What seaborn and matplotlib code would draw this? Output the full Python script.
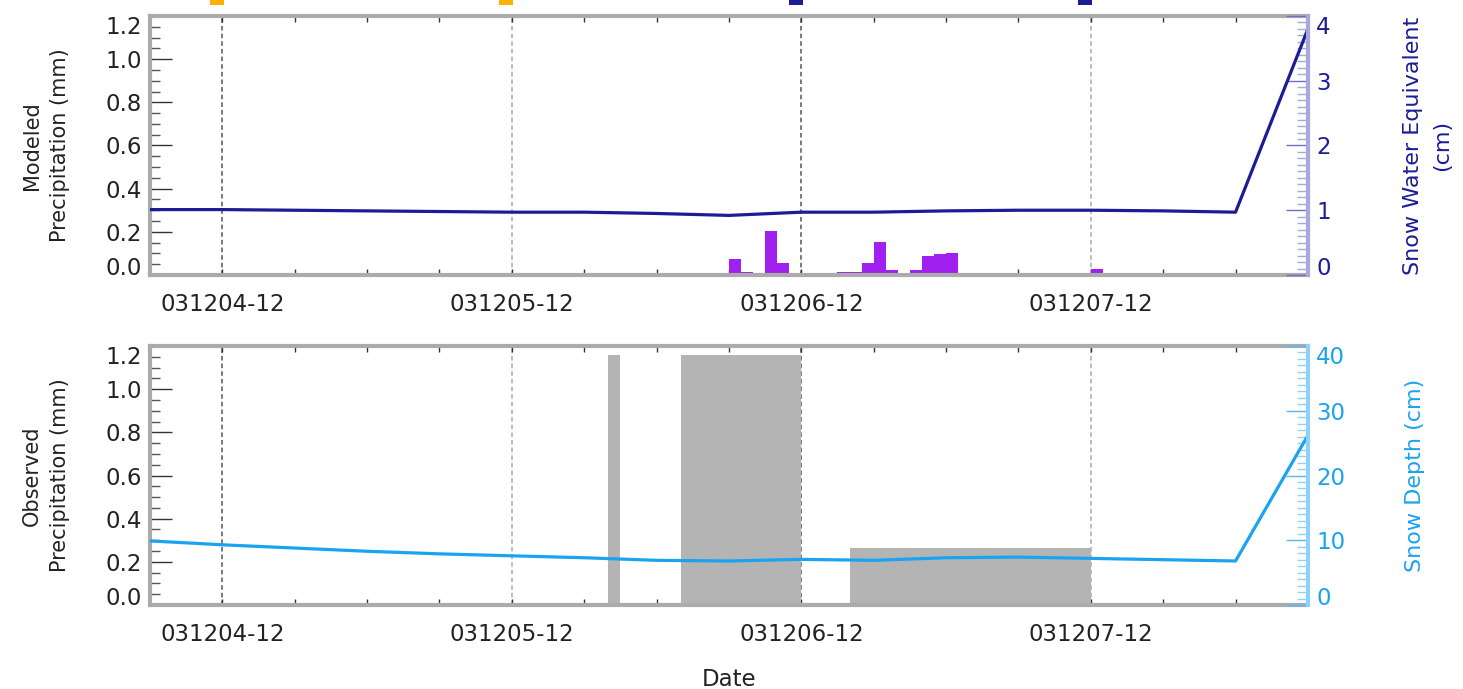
import numpy as np
import pandas as pd
import matplotlib
matplotlib.use("Agg")
import matplotlib.pyplot as plt
import seaborn as sns
from matplotlib.ticker import MultipleLocator, FuncFormatter
from matplotlib.patches import Rectangle
from matplotlib.transforms import blended_transform_factory

# time axis: hours since 031204-06 (YYMMDD-HH)
t0 = pd.Timestamp("2003-12-04 06:00")
x_end = 96
date_ticks = ["031204-12", "031205-12", "031206-12", "031207-12"]

# 6-hourly snow series, 031204-06 .. 031208-06
snow_times = pd.date_range("2003-12-04 06:00", "2003-12-08 06:00", freq="6h")
swe_cm = [1.01, 1.01, 1.00, 0.99, 0.98, 0.97, 0.97, 0.95, 0.92, 0.97,
          0.97, 0.99, 1.00, 1.00, 0.99, 0.97, 3.80]
depth_cm = [9.9, 9.3, 8.8, 8.3, 7.9, 7.6, 7.3, 6.9, 6.8, 7.05,
            6.9, 7.3, 7.4, 7.2, 7.0, 6.8, 26.2]

# hourly modeled precipitation (hour start, mm)
model_times = ["031206-05", "031206-06", "031206-07", "031206-09", "031206-10",
               "031206-11", "031206-12", "031206-13", "031206-14", "031206-15",
               "031206-16", "031206-17", "031206-18", "031206-19", "031206-20",
               "031206-21", "031206-22", "031206-23", "031207-00", "031207-01",
               "031207-12", "031207-13", "031207-15", "031207-16", "031207-19",
               "031207-20", "031207-22", "031208-00"]
model_precip = [0.010, 0.073, 0.014, 0.204, 0.057,
                0.008, 0.008, 0.008, 0.008, 0.015,
                0.015, 0.057, 0.153, 0.022, 0.008,
                0.022, 0.088, 0.096, 0.100, 0.008,
                0.028, 0.008, 0.008, 0.008, 0.008,
                0.008, 0.006, 0.006]

# observed precipitation: periods of constant hourly rate
obs_start = ["031205-20", "031206-02", "031206-16"]
obs_hours = [1, 10, 20]
obs_precip = [1.16, 1.16, 0.265]

# small markers above the top panel
marker_times = ["031204-12", "031205-12", "031206-12", "031207-12"]
marker_colors = ["#FFB000", "#FFB000", "#1C1C96", "#1C1C96"]


def to_hours(labels):
    t = pd.to_datetime(pd.Series(labels), format="%y%m%d-%H")
    return ((t - t0) / pd.Timedelta(hours=1)).to_numpy()


def fmt_date(h, pos):
    return (t0 + pd.Timedelta(hours=h)).strftime("%y%m%d-%H")


sns.set_theme(style="white")
plt.rcParams["font.family"] = ["DejaVu Sans"]

NAVY = "#1C1C96"
SKY = "#1AA3F0"
FRAME = "#ABABAB"
INK = "#222222"
TICK_FS = 16.5
hour_bins = list(range(0, x_end + 1))

fig = plt.figure(figsize=(14.63, 6.89), dpi=100)
ax_top = fig.add_axes([0.1025, 0.6009, 0.7915, 0.3759])
ax_bot = fig.add_axes([0.1025, 0.1219, 0.7915, 0.3759])

model_df = pd.DataFrame({"hour": to_hours(model_times), "precip": model_precip})
sns.histplot(data=model_df, x="hour", weights="precip", bins=hour_bins,
             color="#A020F0", alpha=1, linewidth=0, ax=ax_top)

oh = np.concatenate([to_hours([s])[0] + np.arange(n) for s, n in zip(obs_start, obs_hours)])
obs_df = pd.DataFrame({"hour": oh, "precip": np.repeat(obs_precip, obs_hours)})
sns.histplot(data=obs_df, x="hour", weights="precip", bins=hour_bins,
             color="#B4B4B4", alpha=1, linewidth=0, ax=ax_bot)

sh = ((snow_times - t0) / pd.Timedelta(hours=1)).to_numpy()
tick_h = to_hours(date_ticks)
dash_colors = ["#555555", "#AAAAAA", "#555555", "#AAAAAA"]


def nudge_end_labels(ax):
    # first and last labels sit inside the frame, as in the original plot
    labs = ax.get_yticklabels()
    labs[0].set_verticalalignment("baseline")
    labs[-1].set_verticalalignment("top")


def style_left(ax, ylabel):
    ax.set_xlim(0, x_end)
    ax.set_ylim(0, 1.2)
    for s in ax.spines.values():
        s.set_color(FRAME)
        s.set_linewidth(3)
    ax.spines["right"].set_visible(False)
    ax.set_yticks(np.arange(0, 1.21, 0.2), labels=[f"{v:.1f}" for v in np.arange(0, 1.21, 0.2)])
    ax.yaxis.set_minor_locator(MultipleLocator(0.05))
    ax.tick_params(axis="y", which="major", direction="in", length=16, width=1,
                   color="#333333", labelsize=TICK_FS, labelcolor=INK, pad=6, right=False)
    ax.tick_params(axis="y", which="minor", direction="in", length=7, width=1,
                   color="#555555", right=False)
    ax.set_xticks(tick_h)
    ax.xaxis.set_major_formatter(FuncFormatter(fmt_date))
    ax.xaxis.set_minor_locator(MultipleLocator(6))
    ax.tick_params(axis="x", which="both", direction="in", length=4, width=1,
                   color="#333333", top=True, bottom=True, labelsize=TICK_FS,
                   labelcolor=INK, pad=13)
    for h, c in zip(tick_h, dash_colors):
        ax.axvline(h, color=c, lw=1.1, ls=(0, (3, 2)), zorder=0.5)
    ax.set_ylabel(ylabel, fontsize=15, color=INK, linespacing=1.5)
    ax.yaxis.set_label_coords(-0.069, 0.5)
    ax.set_xlabel("")
    nudge_end_labels(ax)


def style_right(ax, y, top, major, minor, spine_c, tick_c, text_c, label, lx):
    sns.lineplot(x=sh, y=y, color=text_c, lw=2.3, ax=ax)
    ax.set_xlim(0, x_end)
    ax.set_ylim(0, top)
    for k in ["left", "top", "bottom"]:
        ax.spines[k].set_visible(False)
    ax.spines["right"].set_color(spine_c)
    ax.spines["right"].set_linewidth(3)
    ax.set_yticks(np.arange(0, top + major / 2, major))
    ax.yaxis.set_minor_locator(MultipleLocator(minor))
    ax.tick_params(axis="y", which="major", direction="in", length=16, width=1,
                   color=tick_c, labelsize=TICK_FS, labelcolor=text_c, pad=6)
    ax.tick_params(axis="y", which="minor", direction="in", length=8, width=1,
                   color=spine_c)
    ax.set_ylabel(label, fontsize=16, color=text_c, linespacing=1.6)
    ax.yaxis.set_label_coords(lx, 0.5)
    nudge_end_labels(ax)


style_left(ax_top, "Modeled\nPrecipitation (mm)")
style_left(ax_bot, "Observed\nPrecipitation (mm)")

ax_swe = ax_top.twinx()
style_right(ax_swe, swe_cm, 4, 1, 0.1, "#A8A8DA", "#7070C0", NAVY,
            "Snow Water Equivalent\n(cm)", 1.082)
ax_dep = ax_bot.twinx()
style_right(ax_dep, depth_cm, 40, 10, 1, "#8FD2F7", "#55B8F2", SKY,
            "Snow Depth (cm)", 1.084)

ax_bot.set_xlabel("Date", fontsize=16.5, color=INK)
ax_bot.xaxis.set_label_coords(0.5, -0.245)

trans = blended_transform_factory(ax_top.transData, fig.transFigure)
for h, c in zip(to_hours(marker_times), marker_colors):
    ax_top.add_patch(Rectangle((h - 1.05, 0.993), 1.15, 0.02, transform=trans,
                               color=c, clip_on=False, lw=0))

fig.savefig("out.png", dpi=100)
